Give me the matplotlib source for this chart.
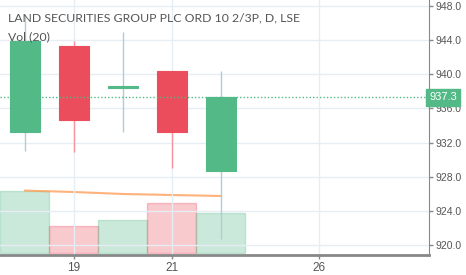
import numpy as np
import matplotlib
matplotlib.use('Agg')
import matplotlib.pyplot as plt

# daily candles (index = trading day)
days = ['18', '19', '20', '21', '22']
opens = [933.2, 943.3, 938.5, 940.4, 928.7]
highs = [947.0, 943.9, 944.9, 940.4, 940.4]
lows = [931.0, 930.9, 933.2, 929.0, 920.7]
closes = [943.9, 934.6, 938.5, 933.2, 937.3]
volume = [3.10, 1.37, 1.64, 2.50, 2.02]      # millions
vol_ma = [3.12, 3.05, 2.95, 2.90, 2.85]
tick_pos = [1, 3, 6]
tick_labels = ['19', '21', '26']
price_ticks = [920, 924, 928, 932, 936, 940, 944, 948]
last_price = 937.3

up = '#53b987'
down = '#eb4d5c'
grid = '#e6eef3'
txt = '#555555'

fig = plt.figure(figsize=(4.66, 2.75), dpi=100)
ax = fig.add_axes([0, 20 / 275, 429 / 466, 255 / 275])
ax2 = ax.twinx()
ax.set_zorder(ax2.get_zorder() + 1)
ax.patch.set_visible(False)

x = np.arange(len(days))
is_up = [c >= o for o, c in zip(opens, closes)]

# volume
for i in x:
    col = up if is_up[i] else down
    ax2.bar(i, volume[i], width=1.0, color=col, alpha=0.3,
            edgecolor=col, linewidth=1)
ax2.plot(x, vol_ma, color='#ff9850', alpha=0.75, lw=1.5)
ax2.set_ylim(-0.1, 12.65)
ax2.set_yticks([])
for s in ax2.spines.values():
    s.set_visible(False)

# candles
for i in x:
    col = up if is_up[i] else down
    wick = '#b2cbd4' if is_up[i] else '#f5949e'
    ax.vlines(i, lows[i], highs[i], color=wick, lw=1, zorder=2)
    body = max(abs(closes[i] - opens[i]), 0.2)
    bottom = min(opens[i], closes[i])
    if abs(closes[i] - opens[i]) < 0.2:
        bottom -= 0.1
    ax.bar(i, body, bottom=bottom, width=0.61, color=col, edgecolor=col,
           linewidth=0.8, zorder=3)

ax.axhline(last_price, color=up, ls=(0, (1, 1.5)), lw=1, zorder=4)

ax.set_xlim(-0.51, 8.245)
ax.set_ylim(918.83, 948.69)
ax.set_xticks(tick_pos)
ax.set_xticklabels(tick_labels, family='Liberation Sans', fontsize=8.5)
ax.set_yticks(price_ticks)
ax.set_yticklabels([f'{p:.1f}' for p in price_ticks],
                   family='Liberation Sans', fontsize=7.5)
ax.yaxis.tick_right()
ax.grid(True, color=grid, lw=1)
ax.set_axisbelow(True)
ax.tick_params(axis='both', colors='#888888', labelcolor=txt,
               length=3, width=1, pad=2)
for s in ['left', 'top']:
    ax.spines[s].set_visible(False)
ax.spines['right'].set_color('#888888')
ax.spines['bottom'].set_color('#888888')
ax.spines['bottom'].set_linewidth(2)

ax.text(1.0, last_price, f'{last_price:.1f}', transform=ax.get_yaxis_transform(),
        color='white', fontsize=8, family='Liberation Sans', va='center',
        ha='left', zorder=10, clip_on=False,
        bbox=dict(boxstyle='square,pad=0.3', fc=up, ec=up))

fig.text(8 / 466, 1 - 18 / 275, 'LAND SECURITIES GROUP PLC ORD 10 2/3P, D, LSE',
         fontsize=8.8, color=txt, family='Lato', va='center', ha='left', zorder=20)
fig.text(8 / 466, 1 - 37 / 275, 'Vol (20)',
         fontsize=8.8, color=txt, family='Lato', va='center', ha='left', zorder=20)

fig.savefig('out.png', dpi=100)
